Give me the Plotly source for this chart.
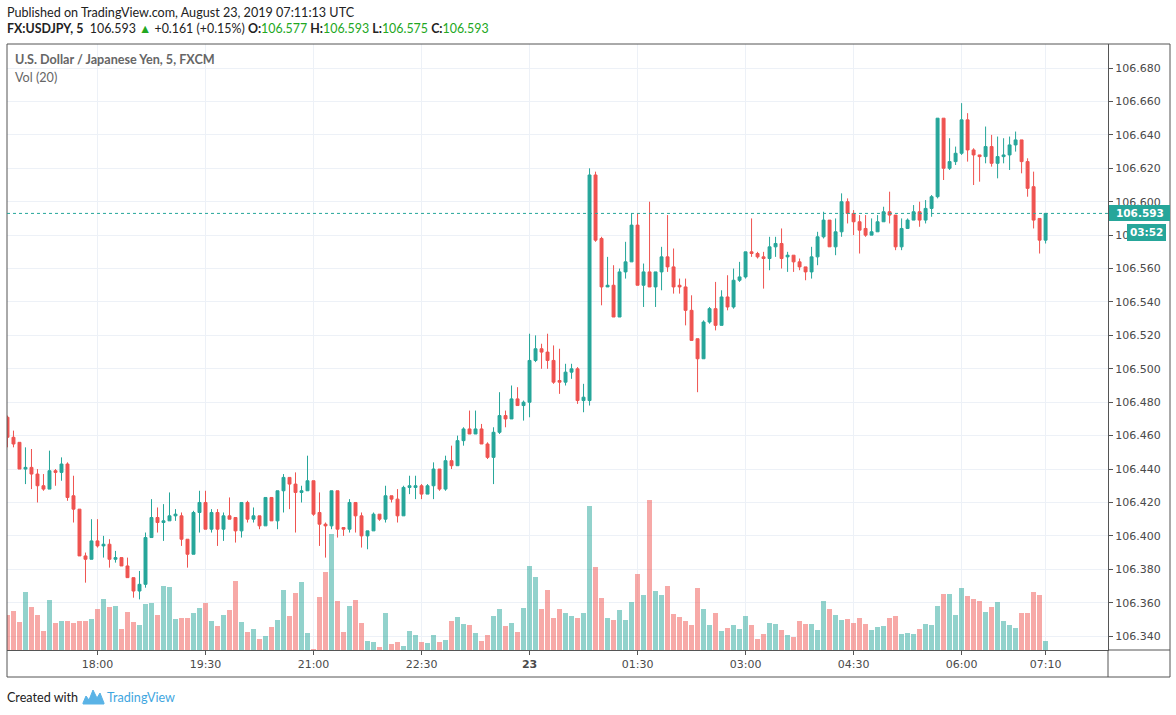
import pandas as pd
import plotly.graph_objects as go

# FX:USDJPY 5 minute bars, 22 Aug 2019 16:45 UTC -> 23 Aug 2019 07:10 UTC
start = pd.Timestamp("2019-08-22 16:45")

open_ = [
    106.471, 106.459, 106.456, 106.440, 106.441, 106.437, 106.430, 106.428, 106.439, 106.438,
    106.443, 106.424, 106.416, 106.388, 106.386, 106.397, 106.394, 106.395, 106.386, 106.387,
    106.382, 106.375, 106.367, 106.371, 106.399, 106.411, 106.408, 106.409, 106.412, 106.412,
    106.398, 106.389, 106.414, 106.420, 106.404, 106.414, 106.404, 106.412, 106.411, 106.403,
    106.420, 106.410, 106.412, 106.406, 106.423, 106.409, 106.427, 106.435, 106.431, 106.426,
    106.427, 106.433, 106.414, 106.407, 106.406, 106.427, 106.405, 106.404, 106.420, 106.412,
    106.400, 106.403, 106.413, 106.410, 106.424, 106.422, 106.412, 106.429, 106.429, 106.430,
    106.425, 106.430, 106.440, 106.428, 106.445, 106.442, 106.457, 106.464, 106.461, 106.464,
    106.455, 106.447, 106.462, 106.472, 106.470, 106.482, 106.478, 106.480, 106.505, 106.512,
    106.510, 106.505, 106.493, 106.492, 106.498, 106.500, 106.481, 106.481, 106.616, 106.578,
    106.549, 106.550, 106.531, 106.558, 106.564, 106.586, 106.550, 106.558, 106.549, 106.558,
    106.567, 106.561, 106.550, 106.549, 106.535, 106.518, 106.506, 106.528, 106.536, 106.526,
    106.543, 106.537, 106.553, 106.555, 106.570, 106.569, 106.567, 106.566, 106.573, 106.575,
    106.567, 106.568, 106.564, 106.561, 106.558, 106.567, 106.579, 106.589, 106.573, 106.582,
    106.600, 106.593, 106.588, 106.584, 106.580, 106.582, 106.588, 106.594, 106.592, 106.573,
    106.584, 106.589, 106.594, 106.589, 106.596, 106.603, 106.650, 106.620, 106.624, 106.629,
    106.649, 106.631, 106.628, 106.627, 106.633, 106.623, 106.627, 106.628, 106.634, 106.637,
    106.624, 106.609, 106.590, 106.577,
]
high_ = [
    106.472, 106.463, 106.456, 106.453, 106.452, 106.440, 106.437, 106.451, 106.440, 106.447,
    106.444, 106.436, 106.416, 106.390, 106.410, 106.410, 106.400, 106.398, 106.391, 106.387,
    106.387, 106.375, 106.379, 106.402, 106.422, 106.417, 106.419, 106.426, 106.416, 106.414,
    106.398, 106.415, 106.427, 106.427, 106.416, 106.416, 106.414, 106.423, 106.411, 106.420,
    106.421, 106.417, 106.412, 106.423, 106.423, 106.427, 106.437, 106.435, 106.438, 106.430,
    106.448, 106.433, 106.426, 106.408, 106.427, 106.427, 106.405, 106.422, 106.420, 106.414,
    106.403, 106.414, 106.413, 106.430, 106.424, 106.428, 106.430, 106.436, 106.436, 106.431,
    106.431, 106.444, 106.440, 106.448, 106.454, 106.460, 106.465, 106.475, 106.475, 106.467,
    106.456, 106.465, 106.486, 106.475, 106.490, 106.489, 106.481, 106.521, 106.520, 106.515,
    106.521, 106.514, 106.512, 106.503, 106.503, 106.501, 106.491, 106.620, 106.618, 106.579,
    106.567, 106.562, 106.560, 106.576, 106.593, 106.593, 106.563, 106.600, 106.558, 106.573,
    106.592, 106.572, 106.554, 106.554, 106.544, 106.518, 106.529, 106.537, 106.552, 106.547,
    106.556, 106.560, 106.564, 106.570, 106.590, 106.570, 106.570, 106.579, 106.579, 106.584,
    106.570, 106.568, 106.566, 106.561, 106.573, 106.582, 106.594, 106.589, 106.590, 106.605,
    106.602, 106.595, 106.592, 106.592, 106.590, 106.592, 106.597, 106.606, 106.592, 106.590,
    106.590, 106.598, 106.600, 106.601, 106.604, 106.650, 106.650, 106.638, 106.633, 106.659,
    106.653, 106.632, 106.628, 106.645, 106.640, 106.639, 106.638, 106.639, 106.642, 106.637,
    106.626, 106.618, 106.590, 106.593,
]
low_ = [
    106.453, 106.453, 106.440, 106.431, 106.428, 106.420, 106.427, 106.428, 106.430, 106.433,
    106.421, 106.408, 106.388, 106.372, 106.386, 106.393, 106.387, 106.381, 106.384, 106.382,
    106.375, 106.363, 106.362, 106.369, 106.399, 106.402, 106.397, 106.409, 106.409, 106.394,
    106.381, 106.389, 106.402, 106.404, 106.402, 106.394, 106.397, 106.410, 106.396, 106.399,
    106.408, 106.408, 106.404, 106.406, 106.409, 106.404, 106.414, 106.416, 106.402, 106.420,
    106.427, 106.412, 106.394, 106.387, 106.404, 106.399, 106.400, 106.402, 106.402, 106.393,
    106.392, 106.403, 106.409, 106.408, 106.420, 106.408, 106.412, 106.425, 106.422, 106.422,
    106.425, 106.422, 106.427, 106.427, 106.440, 106.442, 106.454, 106.461, 106.461, 106.455,
    106.446, 106.431, 106.461, 106.465, 106.470, 106.478, 106.469, 106.471, 106.504, 106.500,
    106.500, 106.491, 106.485, 106.490, 106.494, 106.479, 106.474, 106.478, 106.576, 106.538,
    106.549, 106.531, 106.531, 106.554, 106.564, 106.550, 106.537, 106.549, 106.537, 106.547,
    106.558, 106.545, 106.545, 106.526, 106.517, 106.486, 106.506, 106.527, 106.523, 106.526,
    106.535, 106.536, 106.552, 106.554, 106.567, 106.566, 106.548, 106.559, 106.567, 106.560,
    106.558, 106.558, 106.559, 106.553, 106.554, 106.562, 106.578, 106.573, 106.568, 106.579,
    106.587, 106.580, 106.569, 106.579, 106.580, 106.582, 106.588, 106.587, 106.571, 106.571,
    106.584, 106.589, 106.585, 106.587, 106.591, 106.602, 106.613, 106.619, 106.622, 106.628,
    106.624, 106.610, 106.612, 106.623, 106.621, 106.614, 106.623, 106.619, 106.630, 106.617,
    106.603, 106.584, 106.569, 106.575,
]
close_ = [
    106.459, 106.455, 106.440, 106.441, 106.437, 106.430, 106.428, 106.439, 106.438, 106.443,
    106.423, 106.416, 106.388, 106.386, 106.397, 106.394, 106.395, 106.386, 106.387, 106.382,
    106.375, 106.367, 106.371, 106.399, 106.411, 106.408, 106.409, 106.412, 106.413, 106.398,
    106.389, 106.414, 106.420, 106.404, 106.414, 106.404, 106.412, 106.410, 106.403, 106.420,
    106.410, 106.412, 106.406, 106.423, 106.409, 106.427, 106.435, 106.431, 106.426, 106.427,
    106.433, 106.413, 106.407, 106.406, 106.427, 106.404, 106.404, 106.420, 106.412, 106.400,
    106.403, 106.413, 106.410, 106.424, 106.422, 106.412, 106.429, 106.430, 106.430, 106.425,
    106.430, 106.440, 106.428, 106.445, 106.442, 106.457, 106.464, 106.461, 106.464, 106.455,
    106.447, 106.462, 106.472, 106.470, 106.482, 106.478, 106.480, 106.505, 106.512, 106.510,
    106.505, 106.492, 106.492, 106.498, 106.500, 106.481, 106.483, 106.616, 106.577, 106.549,
    106.550, 106.531, 106.558, 106.564, 106.586, 106.550, 106.558, 106.549, 106.558, 106.567,
    106.561, 106.549, 106.549, 106.535, 106.517, 106.506, 106.528, 106.536, 106.526, 106.543,
    106.537, 106.553, 106.555, 106.570, 106.569, 106.567, 106.566, 106.573, 106.575, 106.566,
    106.568, 106.564, 106.561, 106.558, 106.567, 106.579, 106.589, 106.573, 106.582, 106.600,
    106.593, 106.588, 106.583, 106.580, 106.582, 106.588, 106.594, 106.592, 106.573, 106.584,
    106.589, 106.594, 106.589, 106.596, 106.603, 106.650, 106.620, 106.624, 106.629, 106.649,
    106.631, 106.628, 106.627, 106.633, 106.623, 106.627, 106.628, 106.634, 106.637, 106.624,
    106.608, 106.589, 106.577, 106.593,
]
volume = [
    350, 390, 280, 577, 427, 347, 190, 500, 267, 287,
    287, 267, 287, 287, 307, 410, 507, 427, 437, 207,
    377, 280, 247, 457, 467, 347, 637, 627, 307, 320,
    320, 367, 420, 467, 290, 240, 347, 400, 690, 277,
    177, 207, 107, 140, 227, 297, 600, 337, 567, 677,
    167, 7, 527, 780, 1160, 490, 177, 437, 500, 267,
    87, 77, 27, 367, 57, 77, 37, 187, 147, 77,
    67, 147, 77, 97, 287, 327, 257, 247, 167, 87,
    147, 337, 407, 237, 267, 177, 417, 837, 727, 407,
    600, 317, 407, 367, 337, 317, 367, 1440, 827, 517,
    317, 297, 397, 297, 477, 757, 547, 1500, 587, 547,
    637, 357, 327, 287, 247, 617, 407, 247, 367, 187,
    217, 247, 207, 337, 247, 107, 157, 267, 257, 197,
    147, 127, 287, 257, 257, 197, 487, 407, 347, 297,
    307, 267, 317, 257, 197, 227, 237, 317, 337, 157,
    167, 157, 207, 257, 247, 437, 557, 557, 347, 617,
    537, 507, 487, 377, 427, 477, 287, 247, 217, 367,
    367, 577, 547, 87,
]
tick_times = ["2019-08-22 18:00", "2019-08-22 19:30", "2019-08-22 21:00", "2019-08-22 22:30",
              "2019-08-23 00:00", "2019-08-23 01:30", "2019-08-23 03:00", "2019-08-23 04:30",
              "2019-08-23 06:00", "2019-08-23 07:10"]
tick_text = ["18:00", "19:30", "21:00", "22:30", "<b>23</b>", "01:30", "03:00", "04:30", "06:00", "07:10"]
price_ticks = [106.34 + 0.02 * i for i in range(18)]

bar = pd.Timedelta(minutes=5)
times = pd.date_range(start, periods=len(close_), freq="5min")

UP, DOWN = "#26a69a", "#ef5350"
vol_colors = ["rgba(38,166,154,0.5)" if c >= o else "rgba(239,83,80,0.5)" for o, c in zip(open_, close_)]

# page geometry (px)
W, H = 1176, 715
ML, MR, MT, MB = 7, 68, 44, 65
PW, PH = W - ML - MR, H - MT - MB


def fx(px):
    return (px - ML) / PW


def fy(py):
    return (H - MB - py) / PH


fig = go.Figure()
fig.add_trace(go.Bar(x=times, y=volume, marker=dict(color=vol_colors, line=dict(width=0)),
                     width=bar.total_seconds() * 1000 * 0.78, yaxis="y", hoverinfo="skip"))
fig.add_trace(go.Candlestick(x=times, open=open_, high=high_, low=low_, close=close_,
                             increasing=dict(line=dict(color=UP, width=1), fillcolor=UP),
                             decreasing=dict(line=dict(color=DOWN, width=1), fillcolor=DOWN),
                             whiskerwidth=0, yaxis="y2"))

grid = "#edf1f7"
axfont = dict(family="DejaVu Sans", size=11, color="#4a4a4a")
fig.update_layout(
    width=W, height=H, margin=dict(l=ML, r=MR, t=MT, b=MB),
    paper_bgcolor="white", plot_bgcolor="white", showlegend=False,
    bargap=0,
    xaxis=dict(type="date", range=[start - bar * 0.08, times[-1] + bar * 10.4],
               tickvals=pd.to_datetime(tick_times), ticktext=tick_text,
               showgrid=True, gridcolor=grid, gridwidth=1,
               ticks="outside", ticklen=4, tickcolor="#555",
               showline=True, linecolor="#555", linewidth=1,
               tickfont=axfont, rangeslider=dict(visible=False), fixedrange=True),
    yaxis=dict(range=[0, PH * 10], visible=False, fixedrange=True),
    yaxis2=dict(overlaying="y", side="right", range=[106.3317, 106.6944],
                tickvals=price_ticks, tickformat=".3f",
                showgrid=True, gridcolor=grid, gridwidth=1,
                ticks="outside", ticklen=4, tickcolor="#555",
                showline=True, linecolor="#555", linewidth=1,
                tickfont=axfont, fixedrange=True),
)

last = close_[-1]
shapes = [
    dict(type="rect", xref="paper", yref="paper", x0=fx(7), x1=fx(1170), y0=fy(677), y1=fy(44),
         line=dict(color="#555", width=1)),
    dict(type="line", xref="paper", yref="paper", x0=fx(1108), x1=fx(1170), y0=fy(650), y1=fy(650),
         line=dict(color="#555", width=1)),
    dict(type="line", xref="paper", yref="paper", x0=fx(1108), x1=fx(1108), y0=fy(677), y1=fy(650),
         line=dict(color="#555", width=1)),
    dict(type="line", xref="paper", yref="y2", x0=0, x1=1, y0=last, y1=last,
         line=dict(color=UP, width=1, dash="dot")),
    dict(type="rect", xref="paper", yref="paper", x0=fx(1109), x1=fx(1170), y0=fy(221), y1=fy(205),
         fillcolor=UP, line=dict(width=0), layer="above"),
    dict(type="rect", xref="paper", yref="paper", x0=fx(1127), x1=fx(1166), y0=fy(241), y1=fy(224),
         fillcolor=UP, line=dict(width=0), layer="above"),
]

# TradingView logo (small cloud with zigzag)
lx = [83, 86, 89, 93, 97, 100, 104, 104, 83]
ly = [703, 696, 700, 690, 698, 693, 703, 704, 704]
path = "M " + " L ".join(f"{fx(a):.5f},{fy(b):.5f}" for a, b in zip(lx, ly)) + " Z"
shapes.append(dict(type="path", xref="paper", yref="paper", path=path,
                   fillcolor="#5ab3e6", line=dict(color="#5ab3e6", width=1)))
fig.update_layout(shapes=shapes)

green = "#22a722"
hdr = "Lato"


def note(px, py, text, size=12.6, color="#222", family=hdr, xanchor="left"):
    fig.add_annotation(x=fx(px), y=fy(py), xref="paper", yref="paper", text=text,
                       showarrow=False, xanchor=xanchor, yanchor="middle",
                       font=dict(family=family, size=size, color=color))


note(5, 12, "Published on TradingView.com, August 23, 2019 07:11:13 UTC")
line2 = (f"<b>FX:USDJPY, 5</b>  {last:.3f} <span style='color:{green}'>▲</span> +0.161 (+0.15%) "
         f"<b>O:</b><span style='color:{green}'>{open_[-1]:.3f}</span> "
         f"<b>H:</b><span style='color:{green}'>{high_[-1]:.3f}</span> "
         f"<b>L:</b><span style='color:{green}'>{low_[-1]:.3f}</span> "
         f"<b>C:</b><span style='color:{green}'>{close_[-1]:.3f}</span>")
note(5, 29, line2, size=12.4)
note(13, 60, "<b>U.S. Dollar / Japanese Yen, 5, FXCM</b>", size=12.6, color="#666")
note(13, 77, "Vol (20)", size=12.6, color="#666")
note(1140, 213, f"<b>{last:.3f}</b>", size=10.5, color="white", family="DejaVu Sans", xanchor="center")
note(1146.5, 232, "<b>03:52</b>", size=10.5, color="white", family="DejaVu Sans", xanchor="center")
note(5, 697, "Created with", size=12.6, color="#222")
note(105, 697, "TradingView", size=12.6, color="#3fa6e0")

# the page body has a default 8px margin; drop it so the figure sits at the page origin
fig.write_html("out.html", config={"displayModeBar": False},
               post_script="document.body.style.margin='0';")
